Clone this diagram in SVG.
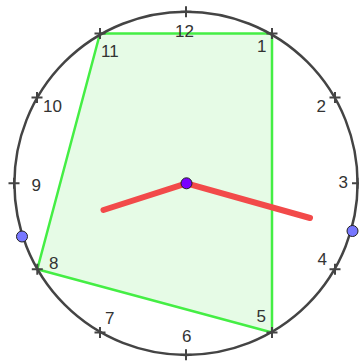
<svg xmlns="http://www.w3.org/2000/svg" width="359" height="363" viewBox="0 0 359 363">
<style>
.face{fill:none;stroke:#444;stroke-width:2.5}
.tick{stroke:#444;stroke-width:2;fill:none}
.lbl{font-family:"Liberation Sans",Arial,sans-serif;font-size:17px;fill:#333}
.poly{fill:#e6fbe6;stroke:#44ee44;stroke-width:2.5;stroke-linejoin:round}
.hand{stroke:#f24a4a;stroke-width:6;stroke-linecap:round;fill:none}
.pt{fill:#7777ff;stroke:#222;stroke-width:1}
.ctr{fill:#7a00ff;stroke:#222;stroke-width:1}
</style>
<defs>
<path id="cross" d="M-5.5,0H5.5M0,-5.5V5.5" class="tick"/>
</defs>
<rect width="359" height="363" fill="#fff"/>
<g id="polygon">
<polygon class="poly" points="100,33.5 272,33.5 272,332.5 37.3,269.2"/>
</g>
<g id="face">
<circle class="face" cx="186" cy="183.3" r="171.6"/>
</g>
<g id="ticks">
<use href="#cross" x="186" y="11.8"/>
<use href="#cross" x="272" y="33.5"/>
<use href="#cross" x="335" y="97.4"/>
<use href="#cross" x="357.5" y="183.3"/>
<use href="#cross" x="335" y="269.2"/>
<use href="#cross" x="272" y="332.5"/>
<use href="#cross" x="186" y="354.8"/>
<use href="#cross" x="100" y="332.5"/>
<use href="#cross" x="37.3" y="269.2"/>
<use href="#cross" x="14" y="183.3"/>
<use href="#cross" x="37" y="97.6"/>
<use href="#cross" x="100" y="33.5"/>
</g>
<g id="labels">
<text class="lbl" x="175" y="37">12</text>
<text class="lbl" x="257" y="52">1</text>
<text class="lbl" x="316.5" y="112">2</text>
<text class="lbl" x="338.5" y="188">3</text>
<text class="lbl" x="317.5" y="265">4</text>
<text class="lbl" x="256.5" y="322">5</text>
<text class="lbl" x="182" y="342">6</text>
<text class="lbl" x="105" y="324">7</text>
<text class="lbl" x="49" y="269">8</text>
<text class="lbl" x="31.5" y="191">9</text>
<text class="lbl" x="43" y="112">10</text>
<text class="lbl" x="101" y="57">11</text>
</g>
<g id="hands">
<line class="hand" x1="186.5" y1="183.3" x2="103.5" y2="210"/>
<line class="hand" x1="186.5" y1="183.3" x2="310" y2="218"/>
</g>
<g id="points">
<circle id="pointA" class="pt" cx="22" cy="236.5" r="5.5"/>
<circle id="pointB" class="pt" cx="352.5" cy="231" r="5.5"/>
<circle id="center" class="ctr" cx="186.5" cy="183.3" r="5.5"/>
</g>
</svg>
